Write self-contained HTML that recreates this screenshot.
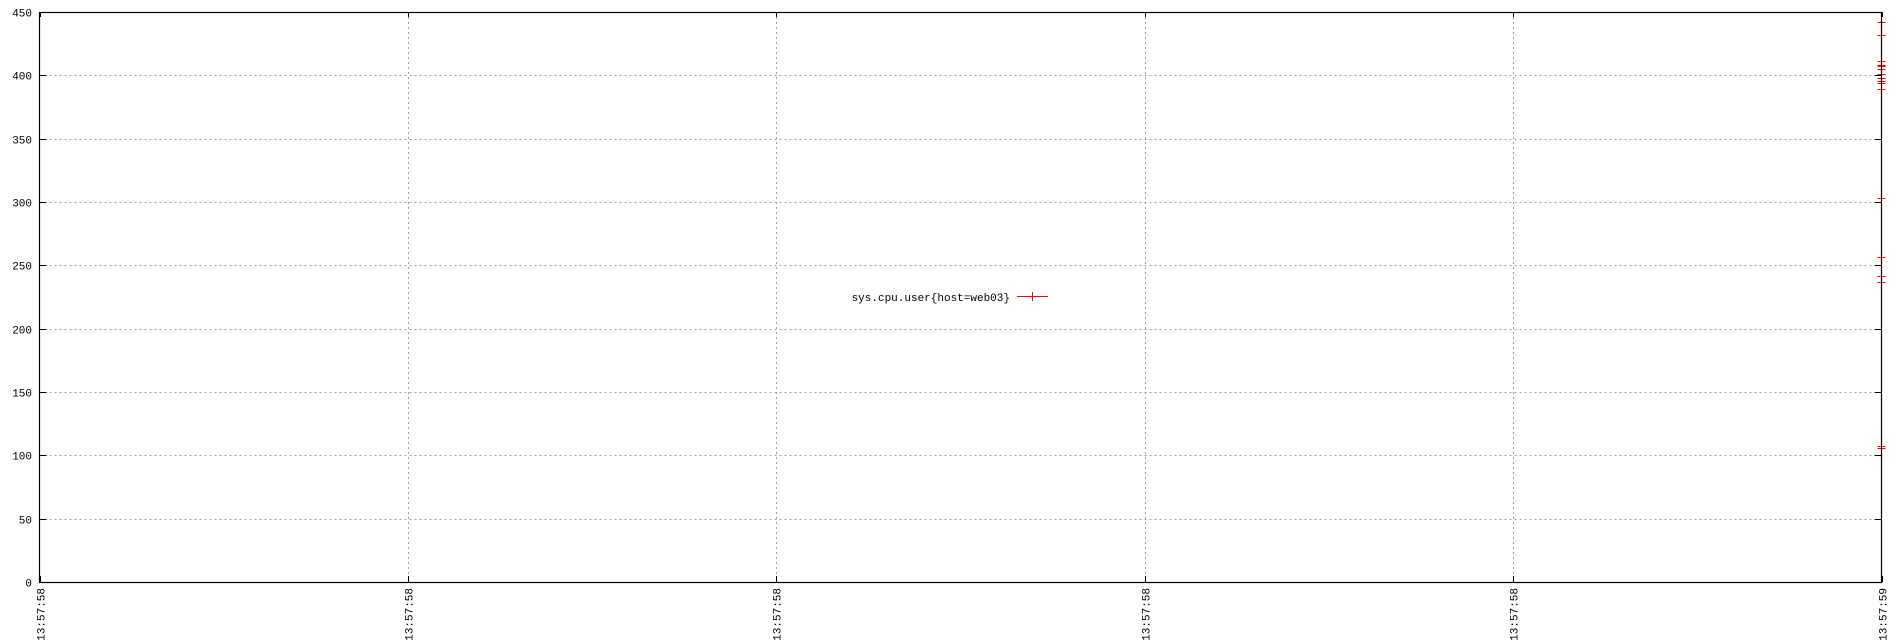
<!DOCTYPE html>
<html><head><meta charset="utf-8"><style>
html,body{margin:0;padding:0;background:#fff;width:1900px;height:644px;overflow:hidden}
svg{display:block}
text{font-family:"Liberation Mono","DejaVu Sans Mono",monospace;font-size:11px;fill:#000}
</style></head><body>
<svg id="chart" width="1900" height="644" xmlns="http://www.w3.org/2000/svg"></svg>
<script>
const yTicks = [0,50,100,150,200,250,300,350,400,450];
const xTickLabels = ["13:57:58","13:57:58","13:57:58","13:57:58","13:57:58","13:57:59"];
const xTickPos = [0,0.2,0.4,0.6,0.8,1.0];
const seriesName = "sys.cpu.user{host=web03}";
const seriesT = [1,1,1,1,1,1,1,1,1,1,1,1,1,1,1,1,1];
const seriesV = [442.4,431.6,411.6,408,407,404.8,400.8,397.6,395.8,393.7,389.5,303.5,256.9,241.9,237,107.4,105.8];

const L=39.5,R=1881.5,T=12,B=582;
const NS="http://www.w3.org/2000/svg";
const svg=document.getElementById('chart');
const xs=t=>L+(R-L)*t;
const ys=v=>B-(B-T)*v/450;
function mk(tag,attrs,parent){const e=document.createElementNS(NS,tag);for(const k in attrs)e.setAttribute(k,attrs[k]);(parent||svg).appendChild(e);return e;}

const grid=mk('g',{});


yTicks.forEach(v=>{
  const y=Math.round(ys(v))+0.5;
  if(v>0&&v<450){const l=mk('line',{x1:L,x2:R,y1:y,y2:y,stroke:'#a0a0a0','stroke-dasharray':'2,3','stroke-width':1},grid);
  
  }
  mk('line',{x1:L,x2:L+7,y1:y,y2:y,stroke:'#000'});
  mk('line',{x1:R-7,x2:R,y1:y,y2:y,stroke:'#000'});
  const t=mk('text',{x:32,y:y+4,'text-anchor':'end'});t.textContent=v;
  
  
});
xTickPos.forEach((p,i)=>{
  const x=Math.round(xs(p))+0.5;
  if(p>0&&p<1){const l=mk('line',{x1:x,x2:x,y1:T,y2:B,stroke:'#a0a0a0','stroke-dasharray':'2,3'},grid);
  
  }
  mk('line',{x1:x,x2:x,y1:B-6,y2:B,stroke:'#000'});
  mk('line',{x1:x,x2:x,y1:T,y2:T+5,stroke:'#000'});
  const t=mk('text',{x:0,y:0,'text-anchor':'end',transform:`translate(${x+4},588) rotate(-90)`});
  t.textContent=xTickLabels[i];
  
  
});

const pts=mk('g',{});


seriesV.forEach((v,i)=>{
  const x=xs(seriesT[i]),y=Math.round(ys(v))+0.5;
  const g=mk('g',{},pts);
  
  
  mk('line',{x1:x-4,x2:x+4,y1:y,y2:y,stroke:'#f00'},g);
  mk('line',{x1:x,x2:x,y1:y-4,y2:y+4,stroke:'#f00'},g);
});

const frame=mk('rect',{x:L,y:T+0.5,width:R-L,height:B-T,fill:'none',stroke:'#000','stroke-width':1.2});



const leg=mk('g',{});


const lt=mk('text',{x:1010,y:301,'text-anchor':'end'},leg);lt.textContent=seriesName;
mk('line',{x1:1017,x2:1048,y1:296.5,y2:296.5,stroke:'#f00'},leg);
mk('line',{x1:1032.5,x2:1032.5,y1:292,y2:301,stroke:'#f00'},leg);
</script>
</body></html>
